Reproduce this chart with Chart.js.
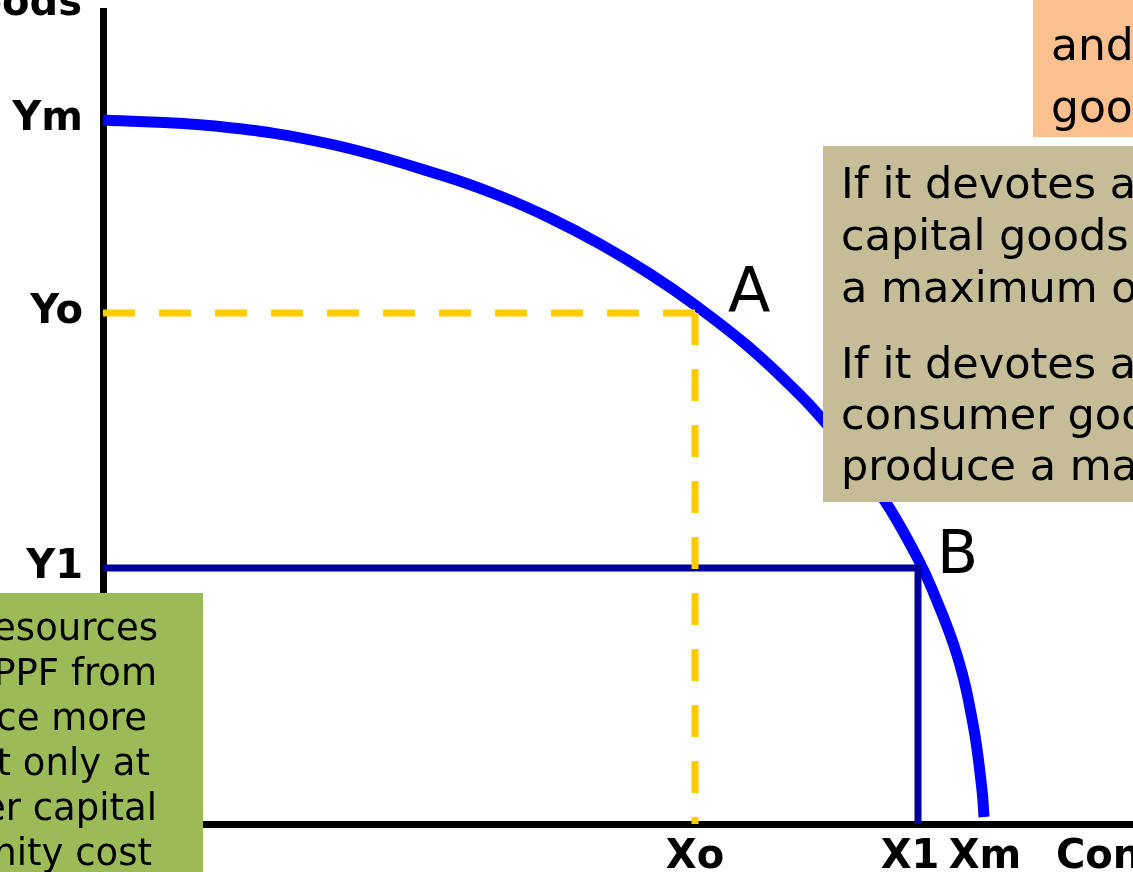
<!DOCTYPE html>
<html>
<head>
<meta charset="utf-8">
<script src="https://cdn.jsdelivr.net/npm/chart.js@4.4.0/dist/chart.umd.min.js"></script>
<style>
    html, body { margin: 0; padding: 0; background: #fff; overflow: hidden; }
    #ppfChart { display: block; }
</style>
</head>
<body>
<canvas id="ppfChart" width="1133" height="872"></canvas>
<script>
// PPF curve (x = consumer goods, y = capital goods)
const ppfX = [0, 1.12, 2.27, 3.41, 3.97, 4.47, 4.97, 5.47, 5.92, 6.47, 6.97, 7.20, 7.57, 7.87, 8.14, 8.29, 8.54, 8.70, 8.79, 8.81];
const ppfY = [7.04, 6.98, 6.80, 6.48, 6.28, 6.06, 5.80, 5.50, 5.19, 4.76, 4.29, 4.04, 3.59, 3.15, 2.67, 2.35, 1.69, 1.00, 0.34, 0.07];

const pointA = { x: 5.92, y: 5.11 };
const pointB = { x: 8.15, y: 2.56 };

const yTickValues = [2.56, 5.11, 7.04];
const yTickLabels = ["Y1", "Yo", "Ym"];
const xTickValues = [5.92, 8.07, 8.82];
const xTickLabels = ["Xo", "X1", "Xm"];

const yAxisTitle = "Capital Goods";
const xAxisTitle = "Consumer Goods";

const orangeNote = ["a combination of capital", "and consumer", "goods"];
const tanNote = [
    ["If it devotes all its resources to", "capital goods it can produce", "a maximum of Ym"],
    ["If it devotes all its resources to", "consumer goods it can", "produce a maximum of Xm"]
];
const greenNote = [
    "If it moves resources",
    "along the PPF from",
    "A to B, it can produce more",
    "consumer goods but only at",
    "the cost of fewer capital",
    "goods: the opportunity cost"
];

const FONT = "DejaVu Sans";
Chart.defaults.font.family = FONT;

const overlayPlugin = {
    id: "overlay",
    afterDraw(chart) {
        const ctx = chart.ctx;
        const xs = chart.scales.x, ys = chart.scales.y;
        ctx.save();
        ctx.fillStyle = "#000";
        ctx.textBaseline = "alphabetic";

        // point labels
        ctx.font = `62px "${FONT}"`;
        ctx.textAlign = "left";
        ctx.fillText("A", xs.getPixelForValue(pointA.x) + 33, ys.getPixelForValue(pointA.y) - 1);
        ctx.font = `60px "${FONT}"`;
        ctx.fillText("B", xs.getPixelForValue(pointB.x) + 19, ys.getPixelForValue(pointB.y) + 5);

        // axis titles (cut by the frame)
        ctx.font = `bold 40px "${FONT}"`;
        ctx.textAlign = "right";
        ctx.fillText(yAxisTitle, 82, 15);
        ctx.textAlign = "left";
        ctx.fillText(xAxisTitle, 1056, 868);

        // orange note, top right
        ctx.fillStyle = "#FAC090";
        ctx.fillRect(1033, 0, 100, 137);
        ctx.fillStyle = "#000";
        ctx.font = `44px "${FONT}"`;
        orangeNote.forEach((line, i) => ctx.fillText(line, 1051, -2 + i * 62));

        // tan note
        ctx.fillStyle = "#C4BD97";
        ctx.fillRect(823, 146, 310, 356);
        ctx.fillStyle = "#000";
        ctx.font = `43px "${FONT}"`;
        tanNote[0].forEach((line, i) => ctx.fillText(line, 841, 198 + i * 52));
        tanNote[1].forEach((line, i) => ctx.fillText(line, 841, 378 + i * 51));

        // green note, bottom left
        ctx.fillStyle = "#9BBB59";
        ctx.fillRect(0, 593, 203, 279);
        ctx.fillStyle = "#000";
        ctx.font = `37px "${FONT}"`;
        ctx.textAlign = "right";
        const ends = [158, 157, 147, 150, 157, 152];
        greenNote.forEach((line, i) => ctx.fillText(line, ends[i], 640 + i * 45));

        ctx.restore();
    }
};

function lineSet(points, color, width, extra = {}) {
    return Object.assign({
        data: points,
        showLine: true,
        borderColor: color,
        backgroundColor: color,
        borderWidth: width,
        pointRadius: 0,
        fill: false,
        clip: false,
        order: 1
    }, extra);
}

const curve = ppfX.map((x, i) => ({ x, y: ppfY[i] }));

new Chart(document.getElementById("ppfChart").getContext("2d"), {
    type: "scatter",
    data: {
        datasets: [
            lineSet([{ x: 0, y: pointA.y }, { x: pointA.x, y: pointA.y }], "#FFCC00", 7, { borderDash: [32, 24] }),
            lineSet([{ x: pointA.x, y: pointA.y }, { x: pointA.x, y: 0 }], "#FFCC00", 7, { borderDash: [32, 24] }),
            lineSet([{ x: 0, y: pointB.y }, { x: pointB.x, y: pointB.y }, { x: pointB.x, y: 0 }], "#000099", 7, { borderJoinStyle: "miter" }),
            lineSet(curve, "#0000FF", 11, { tension: 0.4, order: 2 })
        ]
    },
    options: {
        responsive: false,
        animation: false,
        devicePixelRatio: 1,
        layout: { padding: { top: 11, left: 0, right: 0, bottom: 0 } },
        plugins: {
            legend: { display: false },
            tooltip: { enabled: false },
            title: { display: false }
        },
        scales: {
            x: {
                type: "linear",
                min: 0,
                max: 10.30,
                afterFit: s => { s.height = 48; s.paddingLeft = 0; s.paddingRight = 0; },
                afterBuildTicks: s => { s.ticks = xTickValues.map(v => ({ value: v })); },
                grid: { display: false, drawTicks: false },
                border: { display: true, color: "#000", width: 7 },
                ticks: {
                    autoSkip: false,
                    maxRotation: 0,
                    padding: 10,
                    color: "#000",
                    font: { size: 40, weight: "bold" },
                    callback: v => xTickLabels[xTickValues.indexOf(v)]
                }
            },
            y: {
                type: "linear",
                min: 0,
                max: 8.13,
                afterFit: s => { s.width = 103; s.paddingTop = 0; s.paddingBottom = 0; },
                afterBuildTicks: s => { s.ticks = yTickValues.map(v => ({ value: v })); },
                grid: { display: false, drawTicks: false },
                border: { display: true, color: "#000", width: 7 },
                ticks: {
                    autoSkip: false,
                    padding: 20,
                    color: "#000",
                    font: { size: 40, weight: "bold" },
                    callback: v => yTickLabels[yTickValues.indexOf(v)]
                }
            }
        }
    },
    plugins: [overlayPlugin]
});
</script>
</body>
</html>
